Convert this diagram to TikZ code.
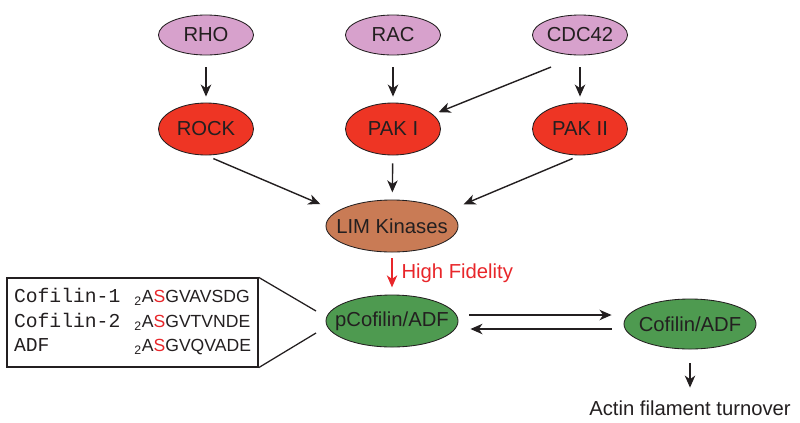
\documentclass[tikz,border=0pt]{standalone}
\usepackage{fontspec}
\setmainfont{Liberation Sans}
\setmonofont{Liberation Mono}
\usetikzlibrary{arrows.meta, shapes.geometric}

\definecolor{gtpase}{HTML}{D7A1CC}
\definecolor{kinase}{HTML}{EE3524}
\definecolor{limk}{HTML}{C97B55}
\definecolor{cofilin}{HTML}{4E9A50}
\definecolor{hifi}{HTML}{E8262A}
\definecolor{ink}{HTML}{231F20}

\newcommand{\motif}[1]{{\fontsize{12.5}{17.4}\selectfont\textsubscript{2}A\textcolor{hifi}{S}#1}}

\begin{document}
\begin{tikzpicture}[x=0.025cm, y=-0.025cm,
    font=\fontsize{14.4}{17.4}\selectfont, text=ink,
    blob/.style={ellipse, draw=ink, line width=0.6pt, inner sep=0pt},
    small/.style={blob, minimum width=2.375cm, minimum height=1cm},
    mid/.style={blob, minimum width=2.375cm, minimum height=1.3cm},
    wide/.style={blob, minimum width=3.3cm, minimum height=1.3cm}]
\useasboundingbox (0,0) rectangle (800,422);

% upstream GTPases and kinases
\node[small, fill=gtpase, label=center:RHO]   (RHO)   at (206,35)  {};
\node[small, fill=gtpase, label=center:RAC]   (RAC)   at (393,35)  {};
\node[small, fill=gtpase, label=center:CDC42] (CDC42) at (580,35)  {};
\node[mid, fill=kinase, label=center:ROCK]    (ROCK)  at (206,129) {};
\node[mid, fill=kinase, label=center:PAK I]   (PAKI)  at (393,129) {};
\node[mid, fill=kinase, label=center:PAK II]  (PAKII) at (580,129) {};
\node[wide, fill=limk, label=center:LIM Kinases] (LIM) at (392,226) {};
\node[wide, fill=cofilin, label=center:pCofilin/ADF] (pC) at (392,321) {};
\node[wide, minimum height=1.25cm, fill=cofilin, label=center:Cofilin/ADF] (Cof) at (690,324) {};
\node (turn) at (690,408) {Actin filament turnover};

% sequence box
\node[draw=ink, line width=0.9pt, rectangle, inner sep=0pt,
      minimum width=6.275cm, minimum height=2.225cm] (seq) at (132.5,322.5) {%
  \begin{tabular}{@{}l@{\hspace{0.35cm}}l@{}}
    \texttt{\fontsize{14}{17.4}\selectfont Cofilin-1} & \motif{GVAVSDG}\\
    \texttt{\fontsize{14}{17.4}\selectfont Cofilin-2} & \motif{GVTVNDE}\\
    \texttt{\fontsize{14}{17.4}\selectfont ADF}       & \motif{GVQVADE}
  \end{tabular}};
\coordinate (zt) at (316,311);
\coordinate (zb) at (316,333);
\draw[ink, line width=0.9pt] (seq.north east) -- (zt);
\draw[ink, line width=0.9pt] (seq.south east) -- (zb);

\begin{scope}[>={Stealth[length=3mm, width=2.6mm, inset=0.9mm]},
              every edge/.style={draw=ink, line width=1pt}]
    \path [->] (RHO) edge[shorten <=0.3cm, shorten >=0.15cm] (ROCK);
    \path [->] (RAC) edge[shorten <=0.3cm, shorten >=0.15cm] (PAKI);
    \path [->] (CDC42) edge[shorten <=0.3cm, shorten >=0.15cm] (PAKII);
    \path [->] (CDC42.south) edge[shorten <=0.78cm, shorten >=0.15cm] (PAKI.20);
    \path [->] (ROCK.south) edge[shorten <=0.2cm, shorten >=0.45cm] (LIM.165);
    \path [->] (PAKI) edge[shorten <=0.2cm, shorten >=0.18cm] (LIM);
    \path [->] (PAKII.south) edge[shorten <=0.2cm, shorten >=0.45cm] (LIM.15);
    \path [->] (LIM) edge[draw=hifi, shorten <=0.15cm, shorten >=0.18cm]
        node[right, text=hifi, xshift=3pt] {High Fidelity} (pC);
    \path [->] ([yshift=0.15cm]pC.east) edge[shorten <=0.275cm, shorten >=0.3cm]
        ([yshift=0.15cm]pC.east -| Cof.west);
    \path [->] ([yshift=-0.2cm]pC.east -| Cof.west) edge[shorten <=0.3cm, shorten >=0.3cm]
        ([yshift=-0.2cm]pC.east);
    \path [->] (Cof) edge[shorten <=0.35cm, shorten >=0.2cm] (turn);
\end{scope}
\end{tikzpicture}
\end{document}
